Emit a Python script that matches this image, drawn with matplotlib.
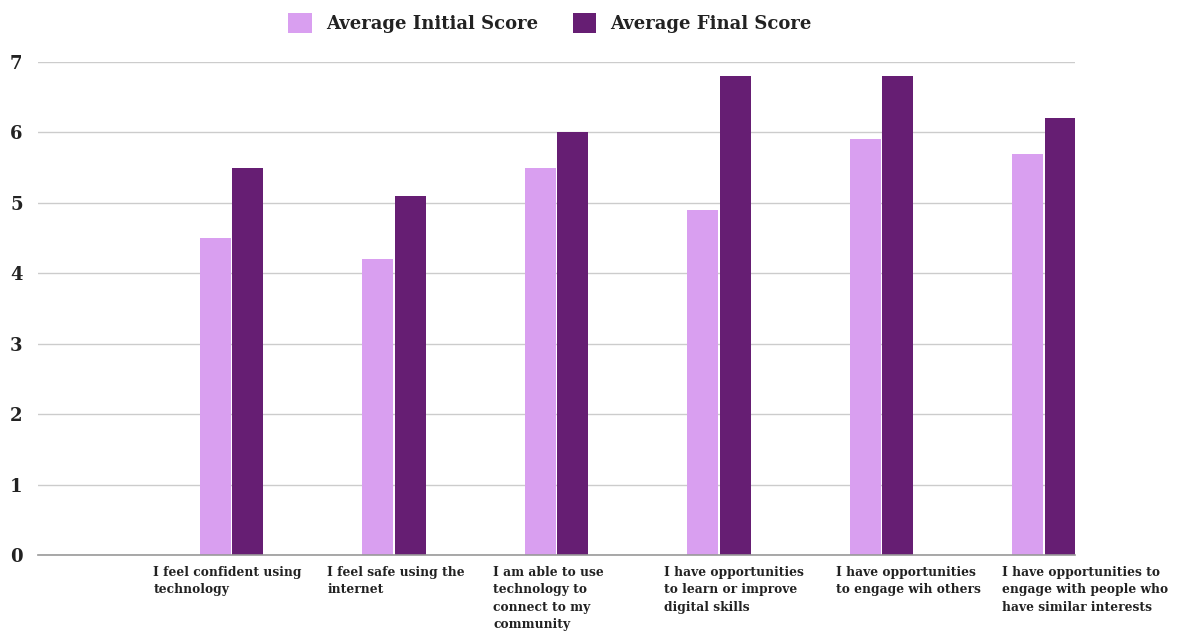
import numpy as np
import matplotlib
matplotlib.use("Agg")
import matplotlib.pyplot as plt
from matplotlib.patches import Patch
from matplotlib.transforms import blended_transform_factory

plt.rcParams['font.family'] = ['DejaVu Serif']
plt.rcParams['font.weight'] = 'bold'

categories = [
    "I feel confident using\ntechnology",
    "I feel safe using the\ninternet",
    "I am able to use\ntechnology to\nconnect to my\ncommunity",
    "I have opportunities\nto learn or improve\ndigital skills",
    "I have opportunities\nto engage wih others",
    "I have opportunities to\nengage with people who\nhave similar interests",
]
initial_scores = [4.5, 4.2, 5.5, 4.9, 5.9, 5.7]
final_scores = [5.5, 5.1, 6.0, 6.8, 6.8, 6.2]
series_names = ["Average Initial Score", "Average Final Score"]
colors = ["#d99ff0", "#661e73"]

# left edge of each wrapped label, relative to group centre (data units)
label_offsets = [-0.48, -0.41, -0.39, -0.34, -0.28, -0.26]

W, H = 1177, 633
fig = plt.figure(figsize=(W / 100, H / 100), dpi=100)
ax = fig.add_axes([38 / W, (H - 555) / H, (1075 - 38) / W, (555 - 62) / H])

x = np.arange(len(categories))
bw = 0.19
ax.bar(x - 0.1, initial_scores, bw, color=colors[0], zorder=3)
ax.bar(x + 0.1, final_scores, bw, color=colors[1], zorder=3)

ax.set_xlim(-1.19, len(categories) - 1 + 0.19)
ax.set_ylim(0, 7)
ax.set_yticks(range(0, 8))
ax.yaxis.grid(True, color="#cccccc", linewidth=1, zorder=0)
ax.set_axisbelow(True)
for s in ["top", "right", "left"]:
    ax.spines[s].set_visible(False)
ax.spines["bottom"].set_color("#999999")
ax.spines["bottom"].set_linewidth(1.2)
ax.spines["bottom"].set_zorder(4)
ax.tick_params(axis="y", length=0, pad=0, labelsize=13, labelcolor="#222222")
for lbl in ax.get_yticklabels():
    lbl.set_horizontalalignment("left")
    lbl.set_x(-28 / (1075 - 38))
ax.set_xticks([])

trans = blended_transform_factory(ax.transData, ax.transAxes)
for xi, lab, off in zip(x, categories, label_offsets):
    ax.text(xi + off, -0.022, lab, transform=trans, ha="left", va="top",
            fontsize=8.8, fontweight="bold", color="#222222", linespacing=1.45)

handles = [Patch(facecolor=c, label=n) for c, n in zip(colors, series_names)]
fig.legend(handles=handles, loc="center", bbox_to_anchor=(550 / W, 1 - 23 / H),
           ncol=2, frameon=False, fontsize=13, handlelength=1.3, handleheight=1.3,
           columnspacing=1.9, handletextpad=0.8, labelcolor="#222222")

fig.savefig("out.png", dpi=100, facecolor="white")
